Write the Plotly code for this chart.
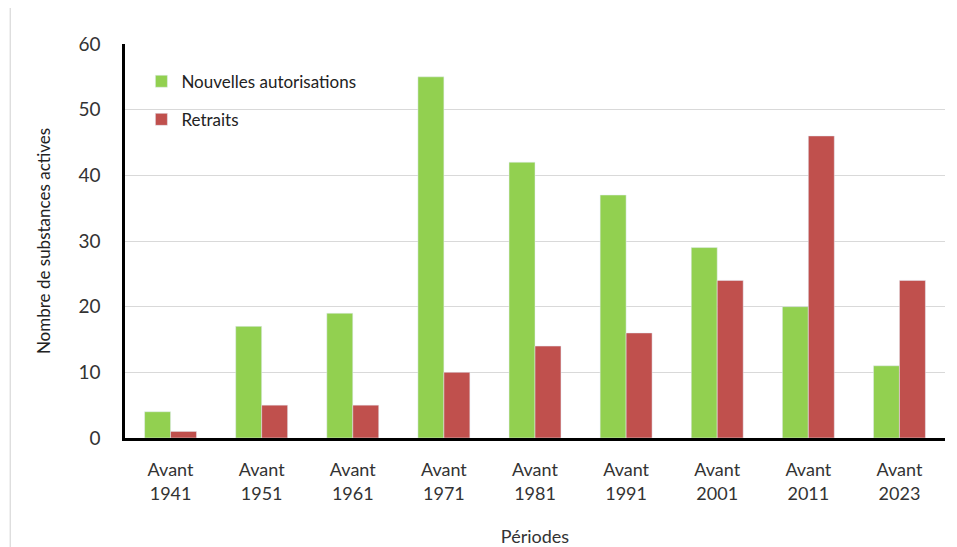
import plotly.graph_objects as go

categories = ["Avant<br>1941", "Avant<br>1951", "Avant<br>1961", "Avant<br>1971", "Avant<br>1981",
              "Avant<br>1991", "Avant<br>2001", "Avant<br>2011", "Avant<br>2023"]
nouvelles = [4, 17, 19, 55, 42, 37, 29, 20, 11]
retraits = [1, 5, 5, 10, 14, 16, 24, 46, 24]

font = "Lato, Open Sans, sans-serif"
fig = go.Figure()
fig.add_trace(go.Bar(x=categories, y=nouvelles, name="Nouvelles autorisations",
                     marker_color="#92D050", legendgroup="a"))
fig.add_trace(go.Bar(x=categories, y=retraits, name="Retraits",
                     marker_color="#C0504D", legendgroup="b"))

fig.update_layout(
    width=949, height=539,
    margin=dict(l=117, r=12, t=36, b=109),
    paper_bgcolor="white", plot_bgcolor="white",
    barmode="group", bargap=0.43, bargroupgap=0,
    font=dict(family=font, size=17, color="#333333"),
    legend=dict(x=0.02, y=0.95, xanchor="left", yanchor="top", bgcolor="rgba(0,0,0,0)",
                font=dict(size=17, color="#222222"), tracegroupgap=13, traceorder="grouped",
                itemwidth=30),
    xaxis=dict(showline=True, linecolor="black", linewidth=2.5, ticks="", automargin=False,
               tickfont=dict(size=18, color="#333333"), ticklabelstandoff=14,
               title=dict(text="Périodes", font=dict(size=18, color="#333333"), standoff=28)),
    yaxis=dict(range=[0, 60], dtick=10, showline=True, linecolor="black", linewidth=2.5,
               showgrid=True, gridcolor="#D9D9D9", gridwidth=1, ticks="", zeroline=False,
               automargin=False,
               tickfont=dict(size=19, color="#333333"), ticklabelstandoff=18,
               title=dict(text="Nombre de substances actives", font=dict(size=17, color="#222222"),
                          standoff=24)),
)
fig.add_shape(type="line", xref="paper", yref="paper", x0=-0.140, x1=-0.140, y0=-0.3, y1=1.1,
              line=dict(color="#D0D0D0", width=1))
fig.write_html("out.html")
